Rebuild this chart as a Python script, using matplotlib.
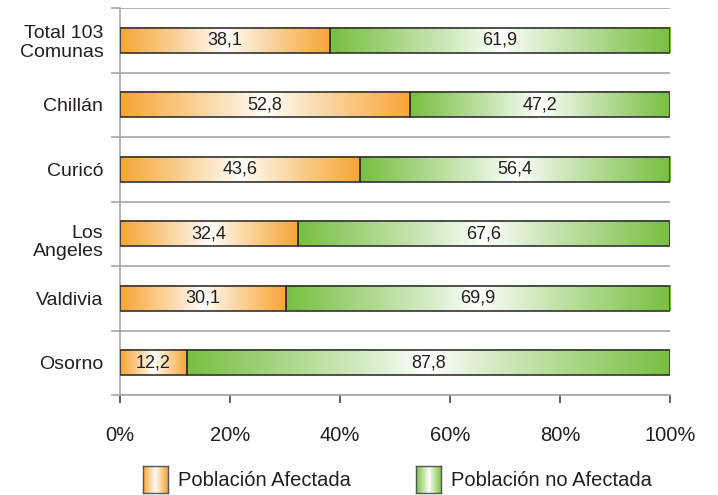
import numpy as np
import matplotlib.pyplot as plt
import matplotlib.transforms as mtransforms
from matplotlib.colors import to_rgb

plt.rcParams['font.family'] = ['Liberation Sans', 'DejaVu Sans']

# data
categories = ['Total 103\nComunas', 'Chillán', 'Curicó', 'Los\nAngeles', 'Valdivia', 'Osorno']
afectada = [38.1, 52.8, 43.6, 32.4, 30.1, 12.2]
no_afectada = [61.9, 47.2, 56.4, 67.6, 69.9, 87.8]
series_names = ['Población Afectada', 'Población no Afectada']

orange = '#F7A535'
green = '#78BF42'
text_col = '#231F20'
grid_col = '#A6A6A6'


def gradient(color, n=256):
    # color at both edges, white in the middle
    t = np.linspace(0, 1, n)
    f = np.abs(2 * t - 1) ** 0.9
    c = np.array(to_rgb(color))
    img = (1 - f)[:, None] * np.ones(3) + f[:, None] * c
    return img[None, :, :]


fig = plt.figure(figsize=(7.18, 4.95), dpi=100)
ax = fig.add_axes([120 / 718, 1 - 395 / 495, 550 / 718, 387 / 495])

n = len(categories)
ypos = np.arange(n)[::-1] + 0.5
h = 0.39

for y, a, b in zip(ypos, afectada, no_afectada):
    ax.imshow(gradient(orange), extent=[0, a, y - h / 2, y + h / 2],
              aspect='auto', zorder=2, interpolation='bilinear')
    ax.imshow(gradient(green), extent=[a, a + b, y - h / 2, y + h / 2],
              aspect='auto', zorder=2, interpolation='bilinear')
    ax.text(a / 2, y, f'{a:.1f}'.replace('.', ','), ha='center', va='center',
            fontsize=13, color=text_col, zorder=4)
    ax.text(a + b / 2, y, f'{b:.1f}'.replace('.', ','), ha='center', va='center',
            fontsize=13, color=text_col, zorder=4)

ax.barh(ypos, afectada, height=h, facecolor='none', edgecolor='#333333',
        linewidth=1.2, zorder=3)
ax.barh(ypos, no_afectada, left=afectada, height=h, facecolor='none',
        edgecolor='#333333', linewidth=1.2, zorder=3)

ax.set_xlim(0, 100)
ax.set_ylim(0, n)

ax.set_yticks(ypos)
ax.set_yticklabels(categories, fontsize=14, color=text_col, linespacing=1.1,
                   multialignment='right')
ax.tick_params(axis='y', which='major', length=0, pad=12)
ax.set_yticks(np.arange(0, n + 1), minor=True)
ax.tick_params(axis='y', which='minor', length=6.5, color=grid_col, width=1.2)
ax.grid(axis='y', which='minor', color=grid_col, linewidth=1.2, zorder=1)

# "Los Angeles" sits a little lower than its bar in the original
lbl = ax.get_yticklabels()[3]
lbl.set_transform(lbl.get_transform() +
                  mtransforms.ScaledTranslation(0, -6 / 100, fig.dpi_scale_trans))

ax.set_xticks(np.arange(0, 101, 20))
ax.set_xticklabels([f'{v}%' for v in range(0, 101, 20)], fontsize=14.5, color=text_col)
ax.tick_params(axis='x', length=6, width=1.2, color='#444444', pad=16)

for s in ['top', 'right']:
    ax.spines[s].set_visible(False)
ax.spines['left'].set_color(grid_col)
ax.spines['left'].set_linewidth(1.2)
ax.spines['bottom'].set_color(grid_col)
ax.spines['bottom'].set_linewidth(1.2)

# legend with gradient swatches
legend_items = [(143, orange), (416, green)]
for (px, col), name in zip(legend_items, series_names):
    lax = fig.add_axes([px / 718, 1 - 493 / 495, 25 / 718, 27 / 495])
    lax.imshow(gradient(col), aspect='auto', extent=[0, 1, 0, 1])
    lax.set_xticks([])
    lax.set_yticks([])
    for s in lax.spines.values():
        s.set_color('#555555')
        s.set_linewidth(1.0)
    fig.text((px + 35) / 718, 1 - 480 / 495, name, fontsize=14.5,
             color=text_col, va='center', ha='left')

fig.savefig('out.png', dpi=100)
